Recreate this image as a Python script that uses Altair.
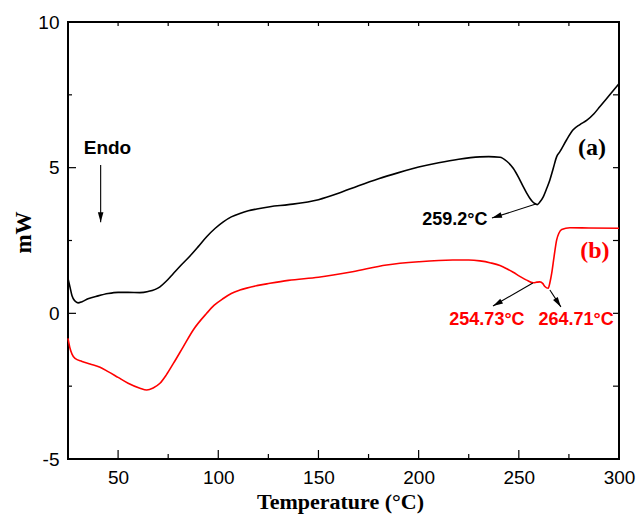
import math
import altair as alt
import pandas as pd

# ---------------- data ----------------
temp_a = [25, 26, 27, 28.5, 30, 32, 35, 40, 45, 50, 55, 60.9, 65, 70.9, 74, 77.6, 81.5, 85.9,
          90, 94.2, 98.5, 102.5, 106.5, 110.8, 115, 119.2, 125.8, 135, 150, 160, 170, 180, 190,
          200, 210, 220, 230.6, 235, 240.6, 244, 247.2, 250, 252.2, 254, 255.5, 257, 258.5, 259.2,
          260.5, 262.2, 264, 265.5, 267.2, 268.9, 270.5, 273.8, 277, 280.5, 284, 287.5, 290.5,
          295.4, 300]
mw_a = [1.2, 0.9, 0.6, 0.42, 0.36, 0.4, 0.5, 0.6, 0.68, 0.72, 0.72, 0.71, 0.75, 0.91, 1.1, 1.37,
        1.66, 1.97, 2.29, 2.63, 2.92, 3.14, 3.31, 3.43, 3.52, 3.58, 3.66, 3.73, 3.9, 4.12, 4.38,
        4.62, 4.83, 5.02, 5.17, 5.29, 5.37, 5.38, 5.36, 5.22, 4.98, 4.65, 4.35, 4.12, 3.95, 3.82,
        3.75, 3.73, 3.82, 4.0, 4.3, 4.58, 4.98, 5.38, 5.55, 5.95, 6.29, 6.48, 6.63, 6.85, 7.1,
        7.5, 7.88]

temp_b = [25, 26, 27, 28.5, 32, 36, 41, 45, 50, 55, 60.9, 64.3, 67.5, 70.9, 74, 77.6, 82.5,
          87.5, 94.2, 98, 102.5, 106.5, 110.8, 119.2, 125.8, 135, 150, 167, 184, 200, 217, 225,
          230.6, 236, 240.6, 244, 247.2, 250.5, 253.9, 257.2, 259, 260.5, 262, 263, 264.7, 265.5,
          266.4, 267.6, 268.9, 270, 271.4, 275.5, 285, 300]
mw_b = [-0.86, -1.2, -1.4, -1.55, -1.65, -1.74, -1.85, -2.0, -2.2, -2.4, -2.57, -2.63, -2.56,
        -2.40, -2.12, -1.72, -1.15, -0.57, 0.0, 0.28, 0.51, 0.68, 0.80, 0.95, 1.03, 1.13, 1.24,
        1.43, 1.66, 1.77, 1.83, 1.83, 1.8, 1.73, 1.64, 1.53, 1.41, 1.27, 1.14, 1.05, 1.07, 1.08,
        1.02, 0.92, 0.86, 1.05, 1.37, 1.95, 2.52, 2.75, 2.88, 2.94, 2.93, 2.92]

x_label_values = [50, 100, 150, 200, 250, 300]
y_label_values = [-5, 0, 5, 10]
x_major_ticks = [50, 100, 150, 200, 250]
x_minor_ticks = [75, 125, 175, 225, 275]
y_major_ticks = [0, 5]
y_minor_ticks = [-2.5, 2.5, 7.5]
x_top_ticks = [50, 75, 100, 125, 150, 175, 200, 225, 250, 275]
y_right_ticks = [-2.5, 0, 2.5, 5, 7.5]

# annotation arrows: start (T, mW) -> end (T2, mW2), head at end
arrow_names = ["endo", "a", "b1", "b2"]
arrow_t1 = [41.3, 258.5, 257.0, 265.5]
arrow_y1 = [5.09, 3.75, 1.04, 0.80]
arrow_t2 = [41.3, 236.6, 237.1, 271.0]
arrow_y2 = [3.13, 3.27, 0.25, 0.22]

# annotation texts
black_labels = ["Endo", "259.2°C"]
black_label_t = [44.7, 218.1]
black_label_y = [5.47, 3.03]
black_label_size = [19, 18]
red_labels = ["254.73°C", "264.71°C"]
red_label_t = [234.1, 278.6]
red_label_y = [-0.40, -0.40]
series_tags = ["(a)", "(b)"]
series_tag_t = [286.5, 288.0]
series_tag_y = [5.43, 1.9]
series_tag_color = ["#000000", "#ff0000"]

# ---------------- layout ----------------
W, H = 551, 437
X0, X1 = 25, 300
Y0, Y1 = -5, 10
xs = alt.Scale(domain=[X0, X1], nice=False, zero=False)
ys = alt.Scale(domain=[Y0, Y1], nice=False, zero=False)

SANS = "Liberation Sans"
SERIF = "Liberation Serif"

AX = alt.Axis(
    values=x_label_values, title="Temperature (°C)", format="d",
    domain=False, ticks=False, grid=False, labelFlush=False, labelOverlap=False,
    labelFont=SANS, labelFontSize=19, labelColor="black", labelPadding=9,
    titleFont=SERIF, titleFontSize=22, titleFontWeight="bold", titleColor="black",
    titleBaseline="alphabetic", titleY=49, titleX=272, titleAlign="center")
AY = alt.Axis(
    values=y_label_values, title="mW", format="d",
    labelExpr="replace(datum.label, '\u2212', '-')",
    domain=False, ticks=False, grid=False, labelFlush=False, labelOverlap=False,
    labelFont=SANS, labelFontSize=19, labelColor="black", labelPadding=9,
    titleFont=SERIF, titleFontSize=23, titleFontWeight="bold", titleColor="black",
    titleAngle=270, titleX=-45, titleY=210, titleAlign="center", titleBaseline="middle")


def X(field):
    return alt.X(field, scale=xs, axis=AX)


def Y(field):
    return alt.Y(field, scale=ys, axis=AY)


df_a = pd.DataFrame({"T": temp_a, "mW": mw_a})
df_b = pd.DataFrame({"T": temp_b, "mW": mw_b})

line_a = alt.Chart(df_a).mark_line(color="#000000", strokeWidth=1.6, interpolate="monotone").encode(
    x=X("T:Q"), y=Y("mW:Q"))
line_b = alt.Chart(df_b).mark_line(color="#ff0000", strokeWidth=1.6, interpolate="monotone").encode(
    x=X("T:Q"), y=Y("mW:Q"))


def xtick_layer(vals, y_from, y_to, width=1.2):
    return alt.Chart(pd.DataFrame({"T": vals})).mark_rule(color="black", strokeWidth=width).encode(
        x=X("T:Q"), y=alt.value(y_from), y2=alt.value(y_to))


def ytick_layer(vals, x_from, x_to, width=1.2):
    return alt.Chart(pd.DataFrame({"mW": vals})).mark_rule(color="black", strokeWidth=width).encode(
        y=Y("mW:Q"), x=alt.value(x_from), x2=alt.value(x_to))


ticks = [
    xtick_layer(x_major_ticks, H, H - 9),
    xtick_layer(x_minor_ticks, H, H - 5),
    xtick_layer(x_top_ticks, 0, 4),
    ytick_layer(y_major_ticks, 0, 8),
    ytick_layer(y_minor_ticks, 0, 4),
    ytick_layer(y_right_ticks, W, W - 6),
]

# arrows
px_per_x = W / (X1 - X0)
px_per_y = H / (Y1 - Y0)
angles = []
for t1, y1, t2, y2 in zip(arrow_t1, arrow_y1, arrow_t2, arrow_y2):
    dx = (t2 - t1) * px_per_x
    dy = -(y2 - y1) * px_per_y
    angles.append(math.degrees(math.atan2(dx, -dy)) % 360)

df_arrows = pd.DataFrame({"name": arrow_names, "T": arrow_t1, "mW": arrow_y1,
                          "T2": arrow_t2, "mW2": arrow_y2, "ang": angles})
arrow_lines = alt.Chart(df_arrows).mark_rule(color="black", strokeWidth=1.1).encode(
    x=X("T:Q"), y=Y("mW:Q"), x2="T2:Q", y2="mW2:Q")
arrow_heads = alt.Chart(df_arrows).mark_point(
    shape="M0,0L-0.28,1L0.28,1Z", filled=True, color="black", opacity=1, size=400,
    strokeWidth=0).encode(
    x=X("T2:Q"), y=Y("mW2:Q"), angle=alt.Angle("ang:Q", scale=None))

# texts
df_black = pd.DataFrame({"label": black_labels, "T": black_label_t, "mW": black_label_y,
                         "fs": black_label_size})
black_text = alt.Chart(df_black).mark_text(
    font=SANS, fontWeight="bold", color="black", baseline="alphabetic", align="center").encode(
    x=X("T:Q"), y=Y("mW:Q"), text="label:N", size=alt.Size("fs:Q", scale=None, legend=None))

df_red = pd.DataFrame({"label": red_labels, "T": red_label_t, "mW": red_label_y})
red_text = alt.Chart(df_red).mark_text(
    font=SANS, fontWeight="bold", color="#ff0000", fontSize=18, baseline="alphabetic",
    align="center").encode(x=X("T:Q"), y=Y("mW:Q"), text="label:N")

df_tags = pd.DataFrame({"label": series_tags, "T": series_tag_t, "mW": series_tag_y,
                        "c": series_tag_color})
tag_text = alt.Chart(df_tags).mark_text(
    font=SERIF, fontWeight="bold", fontSize=24, baseline="alphabetic", align="center").encode(
    x=X("T:Q"), y=Y("mW:Q"), text="label:N", color=alt.Color("c:N", scale=None, legend=None))

chart = alt.layer(line_a, line_b, *ticks, arrow_lines, arrow_heads, black_text, red_text,
                  tag_text).properties(
    width=W, height=H,
    autosize=alt.AutoSizeParams(type="none"),
    padding={"left": 68, "top": 22, "right": 21, "bottom": 56},
    background="white",
).configure_view(stroke="black", strokeWidth=2)

chart.save("out.html", embed_options={"renderer": "svg", "actions": False})
